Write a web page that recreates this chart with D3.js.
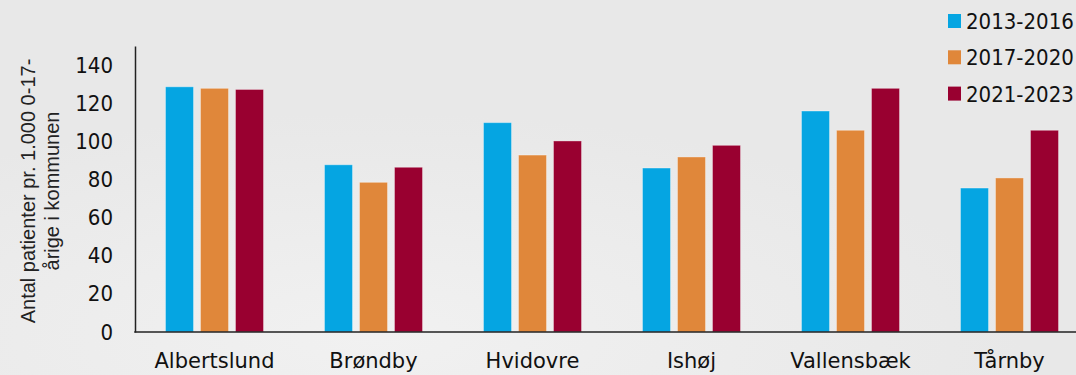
<!DOCTYPE html>
<html>
<head>
<meta charset="utf-8">
<script src="https://cdn.jsdelivr.net/npm/d3@7"></script>
<style>
  body { margin: 0; background: #e8e8e8; }
  svg { display: block; }
</style>
</head>
<body>
<svg id="chart" width="1076" height="375"></svg>
<script>
// data
const kommuner = ['Albertslund', 'Brøndby', 'Hvidovre', 'Ishøj', 'Vallensbæk', 'Tårnby'];
const perioder = ['2013-2016', '2017-2020', '2021-2023'];
const v2013 = [128.6, 87.7, 109.8, 86.0, 115.9, 75.5];
const v2017 = [127.8, 78.5, 92.8, 91.8, 105.8, 80.8];
const v2021 = [127.2, 86.4, 100.2, 97.9, 127.8, 105.8];
const yTicks = [0, 20, 40, 60, 80, 100, 120, 140];
const farver = ['#05a5e2', '#e0873a', '#990030'];

const series = [v2013, v2017, v2021];
const font = "'DejaVu Sans Condensed', 'DejaVu Sans', sans-serif";
const fontWide = "'DejaVu Sans', sans-serif";

const svg = d3.select('#chart');
const W = 1076, H = 375;

// soft background
const defs = svg.append('defs');
const grad = defs.append('radialGradient').attr('id', 'bg')
    .attr('cx', '0.35').attr('cy', '0.9').attr('r', '0.6');
grad.append('stop').attr('offset', '0%').attr('stop-color', '#f1f1f1');
grad.append('stop').attr('offset', '100%').attr('stop-color', '#e8e8e8');
svg.append('rect').attr('width', W).attr('height', H).attr('fill', 'url(#bg)');

const x0 = d3.scaleBand().domain(kommuner).range([135, 1089]).padding(0);
const y = d3.scaleLinear().domain([0, 150]).range([332, 46]);

// bars
kommuner.forEach(function (k, i) {
    let c = x0(k) + x0.bandwidth() / 2;
    let x1 = d3.scaleBand().domain(perioder).range([c - 52.5, c + 52.5])
        .paddingInner(0.2).paddingOuter(0.1);
    perioder.forEach(function (p, j) {
        let v = series[j][i];
        svg.append('rect')
            .attr('x', x1(p))
            .attr('y', y(v))
            .attr('width', x1.bandwidth())
            .attr('height', y(0) - y(v))
            .attr('fill', farver[j])
            .attr('stroke', 'rgba(255,255,255,0.35)')
            .attr('stroke-width', 1);
    });
    svg.append('text')
        .attr('x', c)
        .attr('y', 368)
        .attr('text-anchor', 'middle')
        .style('font-family', fontWide)
        .style('font-size', '21px')
        .attr('fill', '#111')
        .text(k);
});

// axes
const yAxis = d3.axisLeft(y).tickValues(yTicks).tickSize(0).tickPadding(22);
const gy = svg.append('g').attr('transform', 'translate(135,0)').call(yAxis);
gy.select('.domain').attr('stroke', '#222').attr('stroke-width', 1.5);
gy.selectAll('text')
    .style('font-family', font)
    .style('font-size', '22px')
    .attr('fill', '#111');

svg.append('line')
    .attr('x1', 134.25).attr('x2', W)
    .attr('y1', y(0)).attr('y2', y(0))
    .attr('stroke', '#222').attr('stroke-width', 1.5);

// y label, two lines
const yl = svg.append('text')
    .attr('transform', 'translate(0,191) rotate(-90)')
    .attr('text-anchor', 'middle')
    .style('font-family', "'Liberation Sans', Arial, sans-serif")
    .style('font-size', '20px')
    .attr('fill', '#222');
yl.append('tspan').attr('x', 0).attr('y', 35).text('Antal patienter pr. 1.000 0-17-');
yl.append('tspan').attr('x', 0).attr('y', 59).text('årige i kommunen');

// legend
const leg = svg.append('g');
perioder.forEach(function (p, j) {
    let cy = 21 + j * 36.3;
    leg.append('rect')
        .attr('x', 948).attr('y', cy - 7)
        .attr('width', 13).attr('height', 14)
        .attr('fill', farver[j]);
    leg.append('text')
        .attr('x', 966).attr('y', cy + 8)
        .style('font-family', font)
        .style('font-size', '22px')
        .attr('fill', '#111')
        .text(p);
});
</script>
</body>
</html>
